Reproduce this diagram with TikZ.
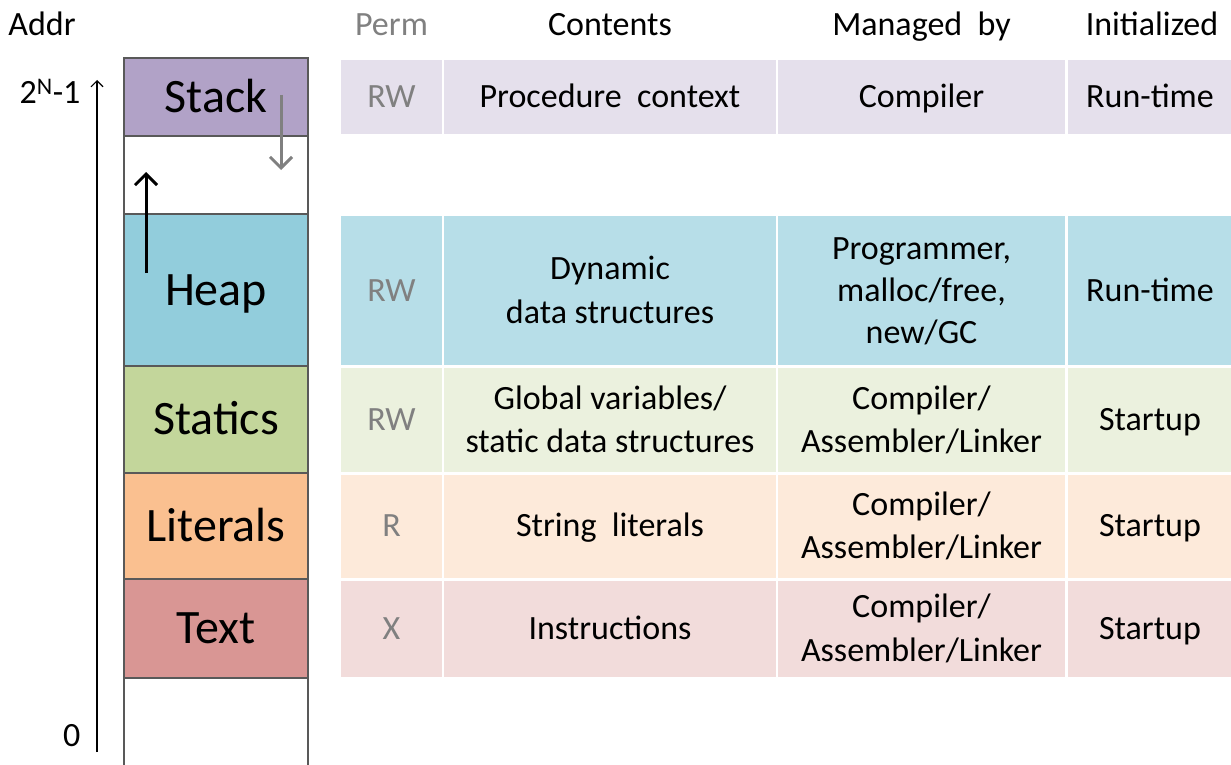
\documentclass[tikz,border=0pt]{standalone}
\usepackage{fontspec}
\setmainfont{Carlito}
\usetikzlibrary{arrows.meta}

\definecolor{stackcol}{RGB}{177,162,199}
\definecolor{heapcol}{RGB}{146,205,220}
\definecolor{statcol}{RGB}{195,214,155}
\definecolor{litcol}{RGB}{250,192,144}
\definecolor{textcol}{RGB}{217,150,148}
\definecolor{stackrow}{RGB}{229,224,236}
\definecolor{heaprow}{RGB}{183,222,232}
\definecolor{statrow}{RGB}{235,241,222}
\definecolor{litrow}{RGB}{253,234,218}
\definecolor{textrow}{RGB}{242,220,219}
\definecolor{permgray}{RGB}{128,128,128}

\newcommand{\segx}{216}
\newcommand{\segw}{184}
\newcommand{\capstrut}{\rule[-0.3em]{0pt}{1.244em}}
\tikzstyle{seg}=[draw=black!65, line width=1.4pt, minimum width=\segw pt, inner sep=0pt, font=\fontsize{48}{54}\selectfont]
\tikzstyle{cell}=[draw=white, line width=2pt, inner sep=0pt, align=center, font=\fontsize{34}{42}\selectfont]
\tikzstyle{head}=[font=\fontsize{34}{40}\selectfont]
\tikzstyle{growarrow}=[line width=3pt, -{Straight Barb[length=11pt,width=22pt]}]

\begin{document}
\begin{tikzpicture}[x=1pt, y=-1pt]

\useasboundingbox (0,0) rectangle (1231,765);

% memory layout
\node[seg, fill=stackcol, minimum height=78pt] (stack) at (\segx,97) {\capstrut Stack};
\node[seg, fill=white, minimum height=78pt] (free) at (\segx,175) {};
\node[seg, fill=heapcol, minimum height=152pt] (heap) at (\segx,290) {\capstrut Heap};
\node[seg, fill=statcol, minimum height=107pt] (statics) at (\segx,419.5) {\capstrut Statics};
\node[seg, fill=litcol, minimum height=106pt] (literals) at (\segx,526) {\capstrut Literals};
\node[seg, fill=textcol, minimum height=99pt] (text) at (\segx,628.5) {\capstrut Text};
\node[seg, fill=white, minimum height=88pt] (low) at (\segx,722) {};

% address axis
\node[head] (addr) at (42,25) {\capstrut Addr};
\node[head, anchor=east] (top) at (84,93) {\capstrut 2\textsuperscript{N}-1};
\node[head, anchor=east] (zero) at (84,736) {\capstrut 0};
\coordinate (axlo) at (97,752);
\coordinate (axhi) at (97,80);
\draw[line width=1.1pt, -{Straight Barb[length=6pt,width=12pt]}] (axlo) -- (axhi);

% stack grows down, heap grows up
\coordinate (sfrom) at (281,95);
\coordinate (sto) at (281,170);
\coordinate (hfrom) at (146,273);
\coordinate (hto) at (146,172);
\draw[growarrow, color=permgray] (sfrom) -- (sto);
\draw[growarrow] (hfrom) -- (hto);

% table
\node[head, text=permgray] (hperm) at (391.5,25) {\capstrut Perm};
\node[head] (hcont) at (610,25) {\capstrut Contents};
\node[head] (hman) at (921.5,25) {\capstrut Managed~~by};
\node[head] (hinit) at (1152,25) {\capstrut Initialized};

\foreach \nm/\y/\h/\col/\p/\c/\m/\i in {
  stk/97/76/stackrow/RW/{Procedure~~context}/Compiler/Run-time,
  hp/290.5/151/heaprow/RW/{Dynamic\\data structures}/{Programmer,\\malloc/free,\\new/GC}/Run-time,
  st/420/106/statrow/RW/{Global variables/\\static data structures}/{Compiler/\\Assembler/Linker}/Startup,
  lt/526/105/litrow/R/{String~~literals}/{Compiler/\\Assembler/Linker}/Startup,
  tx/628.5/98/textrow/X/Instructions/{Compiler/\\Assembler/Linker}/Startup}
{
  \node[cell, fill=\col, text=permgray, minimum width=103pt, minimum height=\h pt] (p-\nm) at (391.5,\y) {\capstrut\p};
  \node[cell, fill=\col, minimum width=334pt, minimum height=\h pt] (c-\nm) at (610,\y) {\capstrut\c\capstrut};
  \node[cell, fill=\col, minimum width=289pt, minimum height=\h pt] (m-\nm) at (921.5,\y) {\capstrut\m\capstrut};
  \node[cell, fill=\col, minimum width=166pt, minimum height=\h pt, anchor=west] (i-\nm) at (1066,\y) {\capstrut\i};
}

\end{tikzpicture}
\end{document}
